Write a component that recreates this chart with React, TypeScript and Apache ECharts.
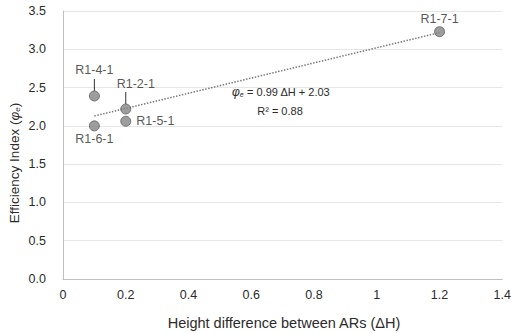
import React, { useEffect, useRef } from "react";
import * as echarts from "echarts";

const sampleNames = ["R1-4-1", "R1-6-1", "R1-2-1", "R1-5-1", "R1-7-1"];
const heightDiff = [0.1, 0.1, 0.2, 0.2, 1.2];
const efficiency = [2.39, 2.0, 2.22, 2.06, 3.23];
const trendSlope = 0.99;
const trendIntercept = 2.03;
const trendRange = [0.1, 1.2];
const xTicks = { min: 0, max: 1.4, interval: 0.2 };
const yTicks = { min: 0, max: 3.5, interval: 0.5 };

const FONT = "Liberation Sans, Arial, sans-serif";
const TXT = "#2b2b2b";

const labelCfg: Record<string, any> = {
  "R1-4-1": { position: "top", distance: 3, dx: 0, dy: -11, line: true },
  "R1-6-1": { position: "bottom", distance: 1, dx: 0, dy: 0, line: false },
  "R1-2-1": { position: "top", distance: 3, dx: 10, dy: -10, line: true },
  "R1-5-1": { position: "right", distance: 5, dx: 0, dy: 0, line: false },
  "R1-7-1": { position: "top", distance: 1, dx: 0, dy: 0, line: false },
};

export default function App() {
  const ref = useRef<HTMLDivElement>(null);
  useEffect(() => {
    const chart = echarts.init(ref.current!, null, { renderer: "svg" });
    const points = sampleNames.map((n, i) => ({
      name: n,
      value: [heightDiff[i], efficiency[i]],
      label: { position: labelCfg[n].position, distance: labelCfg[n].distance },
    }));
    const leaders = sampleNames
      .map((n, i) => (labelCfg[n].line ? [heightDiff[i], efficiency[i]] : null))
      .filter((d) => d !== null);
    const trend = trendRange.map((x) => [x, trendSlope * x + trendIntercept]);
    chart.setOption({
      animation: false,
      grid: { left: 63, right: 8, top: 11, bottom: 54 },
      xAxis: {
        type: "value",
        min: xTicks.min,
        max: xTicks.max,
        interval: xTicks.interval,
        axisLine: { show: true, lineStyle: { color: "#bfbfbf", width: 1 } },
        axisTick: { show: false },
        splitLine: { show: false },
        axisLabel: {
          color: TXT,
          fontSize: 12.5,
          fontFamily: FONT,
          margin: 9,
          formatter: (v: number) => String(Math.round(v * 10) / 10),
        },
      },
      yAxis: {
        type: "value",
        min: yTicks.min,
        max: yTicks.max,
        interval: yTicks.interval,
        axisLine: { show: true, lineStyle: { color: "#bfbfbf", width: 1 } },
        axisTick: { show: false },
        splitLine: { show: true, lineStyle: { color: "#e6e6e6", width: 1 } },
        axisLabel: {
          color: TXT,
          fontSize: 12.5,
          fontFamily: FONT,
          margin: 17,
          formatter: (v: number) => v.toFixed(1),
        },
      },
      series: [
        {
          type: "line",
          data: trend,
          showSymbol: false,
          symbol: "none",
          lineStyle: { color: "#7a7a7a", width: 1.5, type: [1.5, 1.5] },
          silent: true,
          z: 1,
        },
        {
          type: "custom",
          data: leaders,
          silent: true,
          z: 2,
          renderItem: (_params: any, api: any) => {
            const p = api.coord([api.value(0), api.value(1)]);
            return {
              type: "line",
              shape: { x1: p[0], y1: p[1] - 5, x2: p[0], y2: p[1] - 17 },
              style: { stroke: "#333333", lineWidth: 1 },
            };
          },
        },
        {
          type: "scatter",
          data: points,
          symbolSize: 10,
          itemStyle: { color: "#858585", borderColor: "#5e5e5e", borderWidth: 1 },
          label: {
            show: true,
            formatter: "{b}",
            color: TXT,
            fontSize: 12.5,
            fontFamily: FONT,
          },
          labelLayout: (p: any) => {
            const c = labelCfg[sampleNames[p.dataIndex]];
            return { dx: c.dx, dy: c.dy };
          },
          z: 3,
        },
      ],
      graphic: [
        {
          type: "text",
          x: 14,
          y: 163,
          rotation: Math.PI / 2,
          style: {
            text: "Efficiency Index ({i|φ}{s|e})",
            fill: TXT,
            font: `13.5px ${FONT}`,
            align: "center",
            verticalAlign: "middle",
            rich: {
              i: { fontStyle: "italic", fontSize: 13.5, fontFamily: FONT, fill: TXT },
              s: { fontStyle: "italic", fontSize: 8, fontFamily: FONT, fill: TXT, padding: [6, 0, 0, 0] },
            },
          },
        },
        {
          type: "text",
          x: 284,
          y: 323,
          style: {
            text: "Height difference between ARs (ΔH)",
            fill: TXT,
            font: `14.5px ${FONT}`,
            align: "center",
            verticalAlign: "middle",
          },
        },
        {
          type: "text",
          x: 281,
          y: 92,
          style: {
            text: "{i|φ}{s|e} = 0.99 ΔH + 2.03",
            fill: TXT,
            font: `11px ${FONT}`,
            align: "center",
            verticalAlign: "middle",
            rich: {
              i: { fontStyle: "italic", fontSize: 12, fontFamily: FONT, fill: TXT },
              s: { fontStyle: "italic", fontSize: 7, fontFamily: FONT, fill: TXT, padding: [5, 0, 0, 0] },
            },
          },
        },
        {
          type: "text",
          x: 280,
          y: 111,
          style: {
            text: "R² = 0.88",
            fill: TXT,
            font: `11px ${FONT}`,
            align: "center",
            verticalAlign: "middle",
          },
        },
      ],
    });
    return () => chart.dispose();
  }, []);
  return <div ref={ref} style={{ width: 514, height: 333, position: "absolute", left: 0, top: 0, background: "#fff" }} />;
}
